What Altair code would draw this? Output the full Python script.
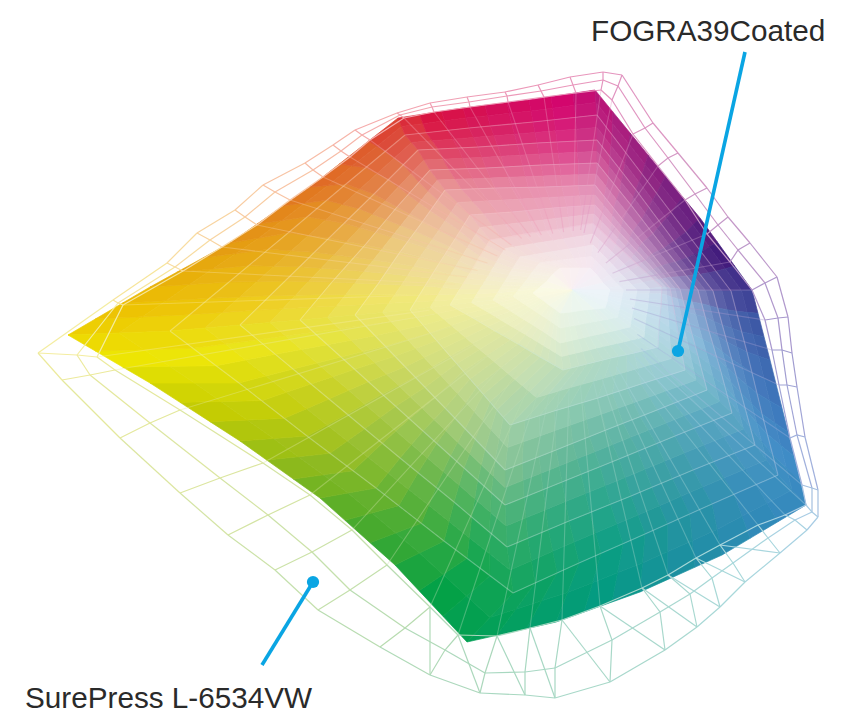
import altair as alt
import pandas as pd

alt.data_transformers.disable_max_rows()

# Ring/spoke mesh of the filled gamut (page pixels)
RINGS = [
 [(68,335),(150,287),(230,243),(310,187),(398,118),(463,108),(529,100),(595,90),(648,155),(700,218),(752,290),(770,360),(788,432),(806,505),(722,555),(640,592),(556,622),(467,642),(395,565),(320,498),(240,441),(150,383)],
 [(170,331),(229,282),(288,233),(346,184),(405,135),(469,128),(533,122),(597,115),(642,174),(686,232),(731,291),(747,352),(762,414),(778,475),(712,504),(645,534),(579,563),(513,593),(444,541),(376,488),(307,436),(239,383)],
 [(240,325),(285,281),(329,238),(374,194),(418,150),(478,147),(537,143),(597,140),(636,190),(674,241),(713,291),(727,342),(741,393),(755,445),(693,470),(631,496),(569,521),(507,547),(454,502),(400,458),(347,414),(293,369)],
 [(300,320),(332,282),(365,245),(397,207),(430,170),(486,168),(541,165),(597,163),(631,205),(664,248),(698,290),(709,331),(721,372),(732,413),(675,436),(619,459),(562,482),(505,505),(464,468),(423,431),(382,394),(341,357)],
 [(355,315),(378,284),(400,252),(423,221),(445,190),(495,188),(545,187),(595,185),(623,220),(652,254),(680,289),(689,323),(698,356),(707,390),(657,410),(606,430),(556,450),(505,470),(475,439),(445,408),(415,377),(385,346)],
 [(410,310),(425,286),(440,262),(455,239),(470,215),(512,212),(553,208),(595,205),(620,233),(645,260),(670,288),(675,315),(680,343),(685,370),(641,384),(598,398),(554,411),(510,425),(490,402),(470,379),(450,356),(430,333)],
 [(450,305),(460,289),(470,273),(480,256),(490,240),(524,234),(558,229),(593,223),(616,244),(639,266),(662,287),(661,307),(659,327),(658,347),(634,353),(611,358),(587,364),(563,370),(540,357),(518,344),(495,331),(473,318)],
 [(493,300),(500,289),(507,278),(513,268),(520,257),(544,253),(569,249),(593,245),(608,260),(622,275),(637,290),(635,302),(632,315),(630,327),(613,331),(595,335),(578,339),(560,343),(547,334),(533,325),(520,317),(506,308)],
 [(533,293),(540,287),(547,281),(553,274),(560,268),(570,268),(580,268),(590,268),(597,275),(603,283),(610,290),(608,296),(607,302),(605,308),(594,309),(583,310),(571,312),(560,313),(555,309),(549,305),(544,301),(538,297)],
]
OUTER = ["#EDC200","#E6A60A","#E38517","#DD5A28","#D8103F","#D40A58","#D2026B","#A81B7C","#7A1E7F","#40197B","#3A56A4","#3C71B8","#3D8AC6","#2F88B8","#1A8F9F","#009A80","#009E5F","#00A045","#45A92C","#8AB81A","#C3CC00","#EDE500"]
MID = ["#EFE35E","#EED77F","#ECCB8E","#EBB097","#E88F9E","#E88CA8","#E78DB0","#DB8BB8","#C184BA","#A98ABC","#9DB8DC","#8FC1DD","#7DBBD0","#6DB6C3","#6AB8AE","#6DBBA0","#7ABF98","#8FC58C","#A8CD7C","#BDD36E","#D1DB64","#E4E35A"]
INNER = ["#F6F4C8","#F5F0D0","#F5ECD8","#F5E6DC","#F4E2E0","#F3E0E4","#F2DFE8","#EEDFEC","#E8E0EE","#E2E4F0","#DBE8F3","#D8E9F2","#D6EAEE","#D6EBE8","#D8EDE2","#DAEDDD","#DEEED8","#E4EFD2","#EAF0CC","#EEF1C8","#F1F2C6","#F4F3C6"]

# Wireframe of the larger gamut: outer ring and two inner rings
WIRE0 = [(38,353),(113,300),(167,263),(197,233),(235,210),(263,185),(305,163),(333,145),(355,130),(397,113),(430,103),(467,97),(505,92),(538,85),(570,77),(603,72),(622,75),(653,123),(678,153),(707,188),(728,217),(750,243),(777,277),(788,317),(792,353),(797,387),(805,437),(818,490),(818,517),(807,530),(780,553),(745,582),(720,607),(697,627),(665,650),(610,682),(555,698),(525,695),(480,693),(430,675),(380,647),(318,610),(275,570),(228,535),(180,493),(120,438),(62,380)]
WIRE1 = [(77,355),(118,303),(175,267),(210,240),(245,217),(275,192),(313,170),(341,151),(362,135),(400,115),(432,107),(469,102),(507,96),(541,91),(573,85),(603,80),(618,86),(645,128),(668,158),(695,194),(718,225),(738,250),(765,283),(778,318),(782,350),(787,385),(797,435),(812,488),(812,512),(795,520),(768,538),(733,563),(712,578),(690,594),(660,612),(612,640),(555,668),(525,672),(485,673),(445,650),(405,628),(350,590),(312,552),(268,515),(220,478),(150,423),(90,375)]
WIRE2 = [(97,357),(123,305),(183,271),(222,247),(257,225),(290,200),(323,177),(350,157),(370,140),(404,118),(434,112),(470,107),(508,102),(544,97),(576,93),(601,90),(612,100),(633,134),(658,166),(685,200),(707,234),(730,262),(752,290),(765,320),(772,350),(779,385),(790,438),(802,485),(806,505),(785,515),(758,525),(720,545),(696,558),(668,575),(642,588),(600,606),(562,620),(530,628),(497,636),(458,635),(430,607),(387,565),(352,530),(310,495),(263,463),(180,410),(115,370)]
WIRE_COLORS = ["#F4EDA0","#F7E59A","#F8DCA0","#F8D4A0","#F8CCA2","#F8C4A4","#F7BCA6","#F6B4A8","#F5ACAC","#F3A4B0","#F0A0B4","#EE9CB6","#EC98B8","#EA96BA","#E896BC","#E494BE","#E094C0","#DC96C2","#D498C4","#CC98C6","#C498C8","#BC98CA","#B098CC","#A898CE","#A09CD0","#A0A4D6","#A0B0DC","#A4C0E0","#A8CCE4","#A8D2E2","#A8D6DE","#A8D8DA","#A8D8D6","#A8D8D0","#A8D8CC","#A8D8C8","#A8D8C4","#A8D8C0","#ACD8BC","#B0DAB8","#B8DCB0","#C4E0AC","#CCE2A8","#D4E4A4","#DCE6A0","#E4E89C","#ECEA9C"]
CENTER = (572,290)

LABELS = ["FOGRA39Coated", "SurePress L-6534VW"]
LABEL_X = [591, 25]
LABEL_Y = [32, 699]
LEADER_X = [[745, 678], [262, 313]]
LEADER_Y = [[52, 351], [665, 582]]

SUB_S = 3   # colour steps across one sector
SUB_R = 2   # colour steps across one ring

def rgb(h):
    return [int(h[i:i+2], 16) for i in (1, 3, 5)]
def mix(a, b, t):
    return "#%02X%02X%02X" % tuple(round(p + (q - p) * t) for p, q in zip(rgb(a), rgb(b)))
def ring_color(s, r):
    if r <= 4:
        return mix(OUTER[s], MID[s], (r / 4) ** 1.5)
    if r <= 7:
        return mix(MID[s], INNER[s], (r - 4) / 3)
    return mix(INNER[s], "#FFFFFF", 0.35 * (r - 7))
def shade(s, r, u):
    # sector colour blended towards the neighbouring sector
    n = len(OUTER)
    c = ring_color(s, r)
    if u < 0.5:
        return mix(ring_color((s - 1) % n, r), c, 0.5 + u)
    return mix(c, ring_color((s + 1) % n, r), u - 0.5)
def lerp(a, b, t):
    return (a[0] + (b[0] - a[0]) * t, a[1] + (b[1] - a[1]) * t)

X = alt.Scale(domain=[8, 856], range=[0, 848])
Y = alt.Scale(domain=[8, 714], range=[0, 706])
xe = alt.X("x:Q", scale=X, axis=None)
ye = alt.Y("y:Q", scale=Y, axis=None)

cells = []
n = len(OUTER)
for r in range(len(RINGS) - 1):
    for s in range(n):
        a, b = RINGS[r][s], RINGS[r][(s + 1) % n]
        d, c = RINGS[r + 1][s], RINGS[r + 1][(s + 1) % n]
        for i in range(SUB_S):
            for j in range(SUB_R):
                u0, u1 = i / SUB_S, (i + 1) / SUB_S
                v0, v1 = j / SUB_R, (j + 1) / SUB_R
                q = [lerp(lerp(a, b, u0), lerp(d, c, u0), v0),
                     lerp(lerp(a, b, u1), lerp(d, c, u1), v0),
                     lerp(lerp(a, b, u1), lerp(d, c, u1), v1),
                     lerp(lerp(a, b, u0), lerp(d, c, u0), v1)]
                col = mix(shade(s, r, (u0 + u1) / 2), shade(s, r + 1, (u0 + u1) / 2), (v0 + v1) / 2)
                for k, p in enumerate(q + [q[0]]):
                    cells.append(dict(cell=f"{r:02d}-{s:02d}-{i}-{j}", k=k, x=p[0], y=p[1], col=col))
for s in range(n):
    a, b = RINGS[-1][s], RINGS[-1][(s + 1) % n]
    for k, p in enumerate([a, b, CENTER, a]):
        cells.append(dict(cell=f"99-{s:02d}", k=k, x=p[0], y=p[1], col=mix(INNER[s], "#FFFFFF", 0.5)))
cells = pd.DataFrame(cells)

fill = alt.Chart(cells).mark_line(strokeWidth=0.7, interpolate="linear").encode(
    x=xe, y=ye, order="k:Q", detail="cell:N",
    fill=alt.Fill("col:N", scale=None), stroke=alt.Stroke("col:N", scale=None))

lines = []
m = len(WIRE0)
for i in range(m):
    col = WIRE_COLORS[i]
    for k, p in enumerate([WIRE0[i], WIRE1[i], WIRE2[i]]):
        lines.append(dict(g=f"s{i}", k=k, x=p[0], y=p[1], col=col))
    for w, ring in enumerate([WIRE0, WIRE1, WIRE2]):
        for k, p in enumerate([ring[i], ring[(i + 1) % m]]):
            lines.append(dict(g=f"r{w}-{i}", k=k, x=p[0], y=p[1], col=col))
for i in range(30, 40):
    for k, p in enumerate([WIRE0[i], WIRE2[i + 1]]):
        lines.append(dict(g=f"x{i}", k=k, x=p[0], y=p[1], col=WIRE_COLORS[i]))
lines = pd.DataFrame(lines)
wire = alt.Chart(lines).mark_line(strokeWidth=1.2).encode(
    x=xe, y=ye, order="k:Q", detail="g:N", stroke=alt.Stroke("col:N", scale=None))

inner = []
for i in range(m):
    for k, p in enumerate([WIRE2[i], lerp(CENTER, WIRE2[i], 0.3)]):
        inner.append(dict(g=f"i{i}", k=k, x=p[0], y=p[1], col=WIRE_COLORS[i]))
for r in range(1, 7):
    for s in range(n):
        for k, p in enumerate([RINGS[r][s], RINGS[r][(s + 1) % n]]):
            inner.append(dict(g=f"m{r}-{s}", k=k, x=p[0], y=p[1], col=mix(WIRE_COLORS[round(s * m / n) % m], "#FFFFFF", 0.3)))
inner = pd.DataFrame(inner)
veil = alt.Chart(inner).mark_line(strokeWidth=1.1, opacity=0.38).encode(
    x=xe, y=ye, order="k:Q", detail="g:N", stroke=alt.Stroke("col:N", scale=None))

lead = pd.DataFrame([dict(g=i, k=k, x=LEADER_X[i][k], y=LEADER_Y[i][k]) for i in range(2) for k in range(2)])
leader = alt.Chart(lead).mark_line(strokeWidth=3.6, color="#0AA5E3").encode(x=xe, y=ye, order="k:Q", detail="g:N")
dots = alt.Chart(lead[lead.k == 1]).mark_circle(size=150, color="#0AA5E3", opacity=1).encode(x=xe, y=ye)

text = alt.Chart(pd.DataFrame(dict(t=LABELS, x=LABEL_X, y=LABEL_Y))).mark_text(
    align="left", baseline="middle", font="Liberation Sans", fontSize=29.7, color="#2A2A2A").encode(x=xe, y=ye, text="t:N")

chart = alt.layer(fill, veil, wire, leader, dots, text).properties(
    width=848, height=706, padding=0, autosize=alt.AutoSizeParams(type="none")
).configure_view(stroke=None)

chart.save("out.html", embed_options={"renderer": "svg", "actions": False})
